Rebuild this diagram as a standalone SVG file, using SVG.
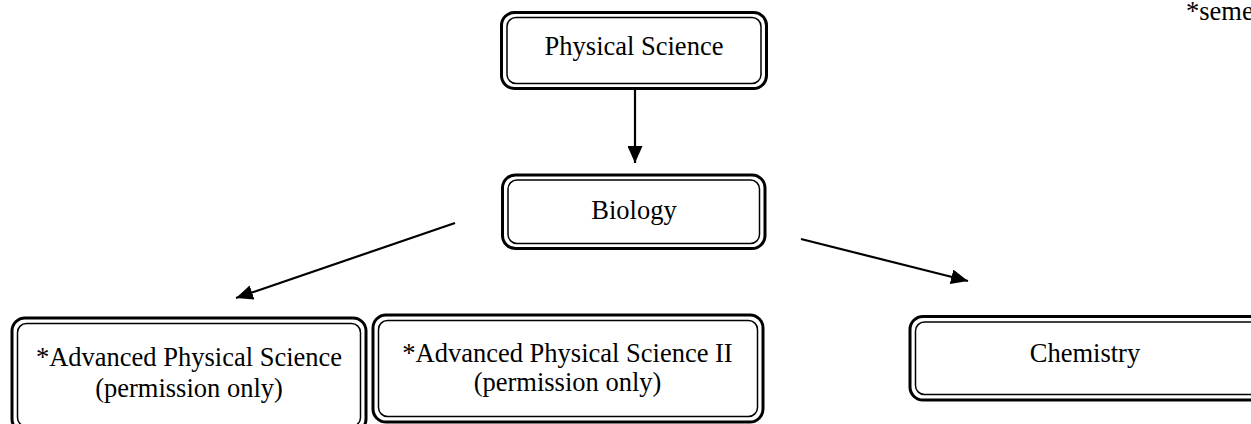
<svg xmlns="http://www.w3.org/2000/svg" width="1251" height="424" viewBox="0 0 1251 424">
<defs>
<style>
.o{fill:#fff;stroke:#000;stroke-width:3}
.i{fill:none;stroke:#000;stroke-width:1.5}
.t{font-family:"Liberation Serif","Times New Roman",serif;font-size:26.5px;fill:#000;text-anchor:middle}
.c{stroke:#000;stroke-width:2.2;fill:none}
</style>
<marker id="ah" markerUnits="userSpaceOnUse" markerWidth="17" markerHeight="15" refX="17" refY="7.5" orient="auto">
<path d="M0,0 L17,7.5 L0,15 z" fill="#000"/>
</marker>
</defs>
<rect width="1251" height="424" fill="#fff"/>
<text x="1186" y="20" font-family="Liberation Serif, serif" font-size="26.5" fill="#000">*seme</text>
<g id="connectors">
<line class="c" x1="635" y1="90" x2="635" y2="163" marker-end="url(#ah)"/>
<line class="c" x1="455" y1="223" x2="236" y2="298" marker-end="url(#ah)"/>
<line class="c" x1="801" y1="239" x2="968" y2="281" marker-end="url(#ah)"/>
</g>
<g id="physical-science">
<rect class="o" x="501.5" y="12.5" width="265" height="76" rx="13"/>
<rect class="i" x="507" y="17.5" width="254" height="66" rx="9"/>
<text class="t" x="634" y="55">Physical Science</text>
</g>
<g id="biology">
<rect class="o" x="502.5" y="175" width="262.5" height="73.5" rx="13"/>
<rect class="i" x="508" y="180" width="251.5" height="63.5" rx="9"/>
<text class="t" x="634" y="219">Biology</text>
</g>
<g id="adv-physical-science">
<rect class="o" x="12" y="318" width="354" height="114" rx="13"/>
<rect class="i" x="17.5" y="323.5" width="343" height="103" rx="9"/>
<text class="t" x="189" y="366">*Advanced Physical Science</text>
<text class="t" x="189" y="397">(permission only)</text>
</g>
<g id="adv-physical-science-2">
<rect class="o" x="373" y="315" width="390" height="107" rx="13"/>
<rect class="i" x="378.5" y="320.5" width="379" height="96" rx="9"/>
<text class="t" x="567.5" y="362">*Advanced Physical Science II</text>
<text class="t" x="567.5" y="391">(permission only)</text>
</g>
<g id="chemistry">
<rect class="o" x="910" y="316.5" width="360" height="83.5" rx="13"/>
<rect class="i" x="915.5" y="322" width="349" height="72.5" rx="9"/>
<text class="t" x="1085" y="362">Chemistry</text>
</g>
</svg>
